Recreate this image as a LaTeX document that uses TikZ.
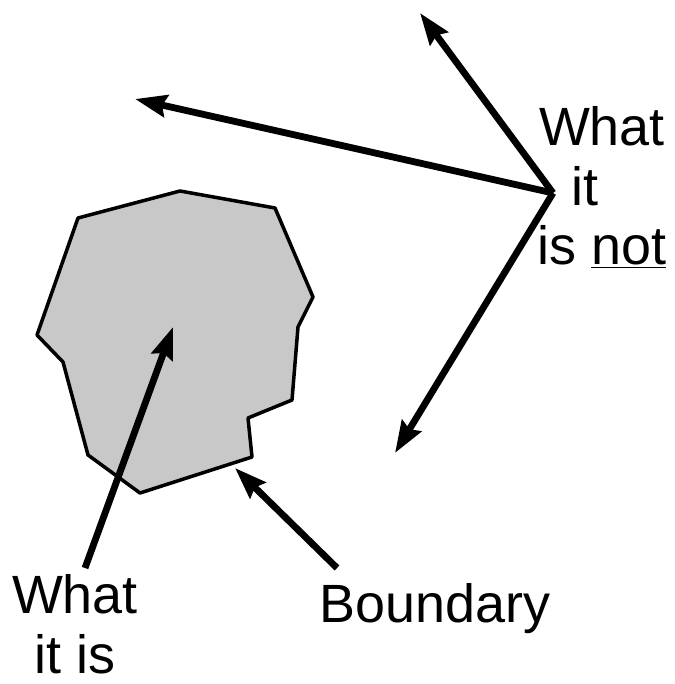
\documentclass[tikz,border=0pt]{standalone}
\usepackage{fontspec}
\setmainfont{Liberation Sans}
\usetikzlibrary{arrows.meta}

\definecolor{areaFill}{RGB}{200,200,200}
\tikzset{
  label text/.style={inner sep=0pt, align=center, font=\fontsize{46}{51}\selectfont},
  pointer/.style={line width=5.8pt, -{Stealth[length=0.95cm, width=0.66cm, inset=0.12cm]}}
}

\begin{document}
\begin{tikzpicture}[x=0.03cm, y=-0.03cm]
\useasboundingbox (0,0) rectangle (674,684);
\draw[line width=3pt, fill=areaFill, line join=round]
  (78,218) -- (180,191) -- (275,208) -- (313,297) -- (298,327) -- (292,400)
  -- (248,418) -- (252,457) -- (140,493) -- (88,455) -- (63,362) -- (37,335) -- cycle;
\coordinate (hub) at (553,193);
\coordinate (up) at (420,13);
\coordinate (left) at (135,99);
\coordinate (down) at (395,453);
\coordinate (inside) at (173,327);
\coordinate (edge) at (235,468);
\node[label text, anchor=north] (isnot) at (602,106) {What\\it\rule{1.05cm}{0pt}\\is \underline{not}};
\node[label text, anchor=north] (isit) at (75,574) {What\\it is};
\node[label text, anchor=base] (bound) at (435,622) {Boundary};
\coordinate (isitTail) at (85,568);
\coordinate (boundTail) at (337,568);
\draw[pointer] (hub) -- (up);
\draw[pointer] (hub) -- (left);
\draw[pointer] (hub) -- (down);
\draw[pointer] (isitTail) -- (inside);
\draw[pointer] (boundTail) -- (edge);
\end{tikzpicture}
\end{document}
